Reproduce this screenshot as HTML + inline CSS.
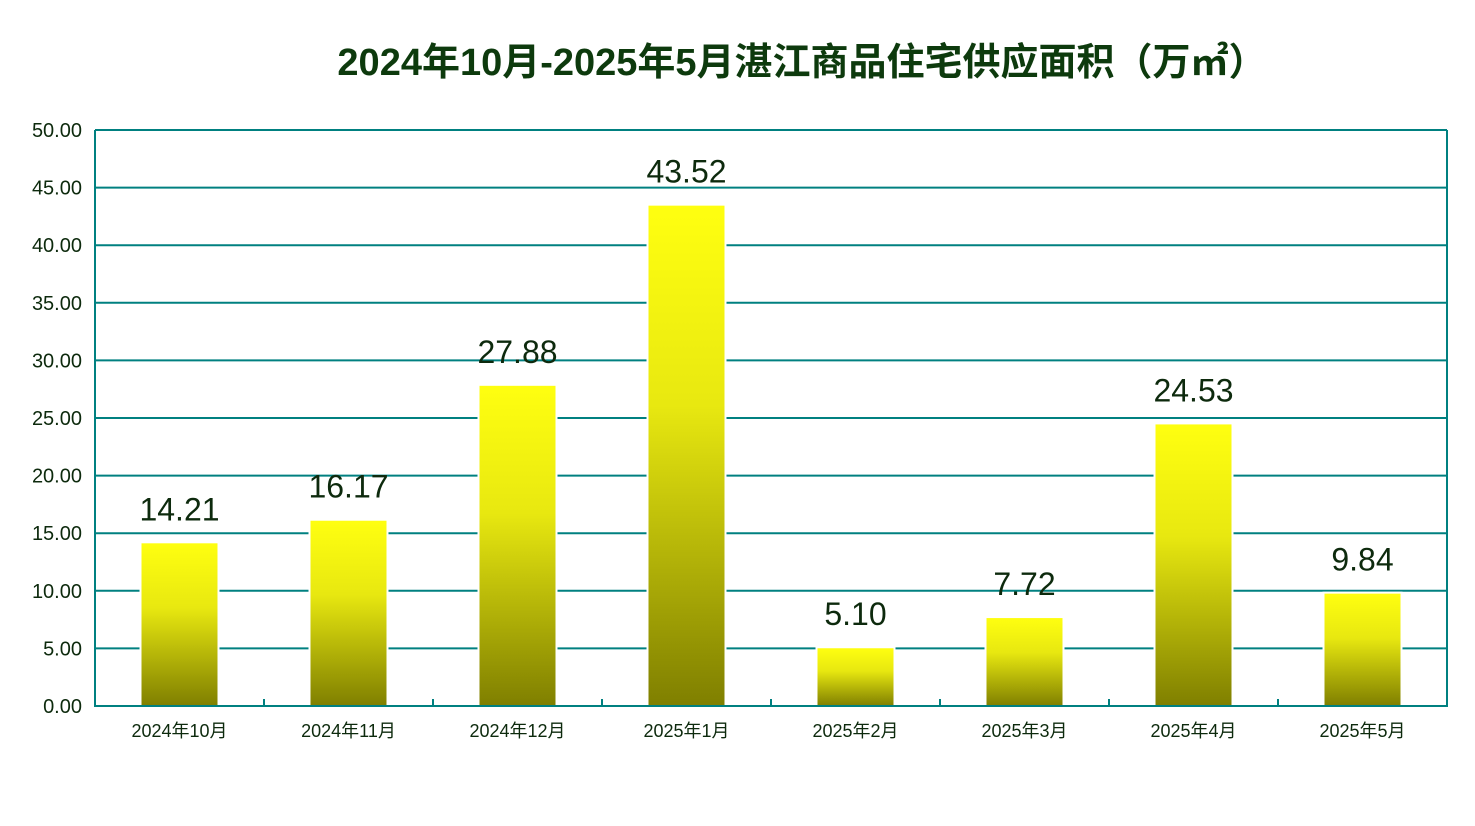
<!DOCTYPE html>
<html><head><meta charset="utf-8"><style>
body{margin:0;background:#fff;}
svg text{font-family:"Liberation Sans","Noto Sans CJK SC",sans-serif;}
</style></head><body>
<svg width="1475" height="821" id="c">
<defs><linearGradient id="g" x1="0" y1="0" x2="0" y2="1">
<stop offset="0" stop-color="#ffff10"/><stop offset="0.4" stop-color="#e8e810"/><stop offset="1" stop-color="#7f7f00"/></linearGradient></defs>
<text x="802" y="75" text-anchor="middle" font-size="38" font-weight="bold" fill="#0d3a0d">2024年10月-2025年5月湛江商品住宅供应面积（万㎡）</text>
<g id="grid"></g><g id="bars"></g><g id="axes"></g>
</svg>
<script>
const categories=["2024年10月","2024年11月","2024年12月","2025年1月","2025年2月","2025年3月","2025年4月","2025年5月"];
const values=[14.21,16.17,27.88,43.52,5.10,7.72,24.53,9.84];
const yTicks=[0,5,10,15,20,25,30,35,40,45,50];
const L=95,R=1447,T=130,B=706,ymax=50;
const ns="http://www.w3.org/2000/svg";
const y=v=>B-(v/ymax)*(B-T);
const bw=(R-L)/categories.length;
const x=i=>L+bw*i+bw/2;
function mk(t,a,p){const e=document.createElementNS(ns,t);for(const k in a)e.setAttribute(k,a[k]);document.getElementById(p).appendChild(e);return e;}
yTicks.forEach(v=>{
 const l=mk('line',{x1:L,x2:R,y1:y(v),y2:y(v),stroke:'#008080','stroke-width':2},'grid');
 
 
 const t=mk('text',{x:L-13,y:y(v)+7,'text-anchor':'end','font-size':20,fill:'#0d2a0d'},'axes');
 t.textContent=v.toFixed(2);
 
 
});
values.forEach((v,i)=>{
 const r=mk('rect',{x:x(i)-39,y:y(v),width:78,height:B-y(v),fill:'url(#g)',stroke:'#fff','stroke-width':2},'bars');
 
 
 const t=mk('text',{x:x(i),y:y(v)-22,'text-anchor':'middle','font-size':32,fill:'#0d2a0d'},'bars');
 t.textContent=v.toFixed(2);
 
 
 const c=mk('text',{x:x(i),y:737,'text-anchor':'middle','font-size':18,fill:'#0d2a0d'},'axes');
 c.textContent=categories[i];
 
 
 if(i>0){const tk=mk('line',{x1:L+bw*i,x2:L+bw*i,y1:B,y2:B-7,stroke:'#008080','stroke-width':2},'axes');
 
 }
});
const a=mk('path',{d:`M${L} ${T} V${B} H${R} V${T}`,fill:'none',stroke:'#008080','stroke-width':2},'axes');


</script>
</body></html>
